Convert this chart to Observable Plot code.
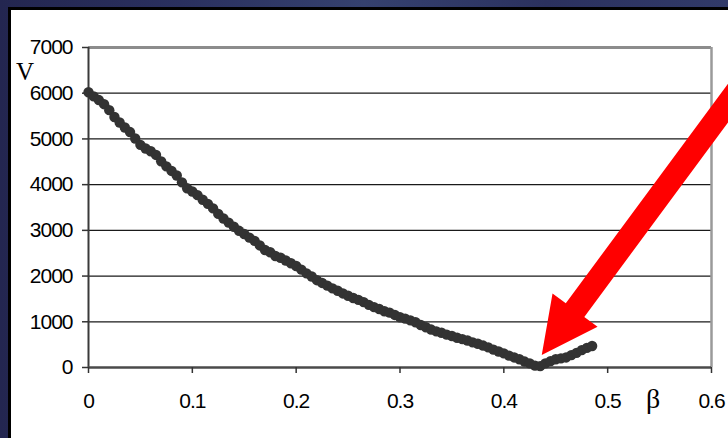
<!DOCTYPE html>
<html><head><meta charset="utf-8">
<script src="https://cdn.jsdelivr.net/npm/d3@7"></script>
<script src="https://cdn.jsdelivr.net/npm/@observablehq/plot@0.6"></script>
<style>
html,body{margin:0;padding:0;width:728px;height:438px;overflow:hidden;}
body{position:relative;background:linear-gradient(90deg,#232650 0%,#2a305f 25%,#35416f 50%,#2b315f 75%,#313a69 100%);}
#panel{position:absolute;left:8px;top:7px;width:720px;height:431px;border-left:3px solid #000;border-top:3px solid #000;background:#fff;overflow:hidden;}
#chart{position:absolute;left:0;top:0;}
#chart g[aria-label="y-axis tick label"] text, #chart g[aria-label="x-axis tick label"] text{letter-spacing:-1px;}
</style></head>
<body>
<div id="panel"><div id="chart"></div></div>
<script>
const betaValues = [0.000,0.005,0.010,0.015,0.020,0.025,0.030,0.035,0.040,0.045,
0.050,0.055,0.060,0.065,0.070,0.075,0.080,0.085,0.090,0.095,
0.100,0.105,0.110,0.115,0.120,0.125,0.130,0.135,0.140,0.145,
0.150,0.155,0.160,0.165,0.170,0.175,0.180,0.185,0.190,0.195,
0.200,0.205,0.210,0.215,0.220,0.225,0.230,0.235,0.240,0.245,
0.250,0.255,0.260,0.265,0.270,0.275,0.280,0.285,0.290,0.295,
0.300,0.305,0.310,0.315,0.320,0.325,0.330,0.335,0.340,0.345,
0.350,0.355,0.360,0.365,0.370,0.375,0.380,0.385,0.390,0.395,
0.400,0.405,0.410,0.415,0.420,0.425,0.430,0.435,0.440,0.445,
0.450,0.455,0.460,0.465,0.470,0.475,0.480,0.485];
const vValues = [6020,5930,5850,5760,5630,5480,5360,5250,5150,5010,
4870,4790,4730,4650,4510,4400,4300,4200,4050,3920,
3850,3770,3670,3580,3480,3360,3260,3170,3080,2990,
2920,2840,2770,2670,2570,2520,2440,2400,2340,2280,
2220,2140,2060,1990,1910,1850,1790,1730,1680,1620,
1570,1520,1480,1430,1370,1320,1280,1230,1200,1150,
1100,1070,1030,990,930,880,830,790,760,720,
690,650,620,590,550,520,480,440,390,350,
310,260,220,180,130,90,40,30,90,140,
180,200,220,270,320,380,430,470];
const yTicks = [0,1000,2000,3000,4000,5000,6000,7000];
const gridValues = [1000,2000,3000,4000,5000,6000];
const xTicks = [0,0.1,0.2,0.3,0.4,0.5,0.6];
const xTickLabels = ["0","0.1","0.2","0.3","0.4","0.5","0.6"];
const xLabel = "β";
const yLabel = "V";
const arrowTip = [0.437, 260];
const arrowTail = [0.63, 6190];

const data = betaValues.map((b, i) => ({beta: b, v: vValues[i]}));
const xLabelMap = new Map(xTicks.map((t, i) => [t, xTickLabels[i]]));

const plot = Plot.plot({
  width: 717, height: 428,
  marginLeft: 77, marginTop: 37, marginRight: 17, marginBottom: 71,
  style: {background: "transparent", fontFamily: "'Liberation Sans', Arial, sans-serif", fontSize: "21px", color: "#000", overflow: "visible"},
  x: {domain: [0, 0.6]},
  y: {domain: [0, 7000]},
  marks: [
    Plot.ruleY(gridValues, {stroke: "#1a1a1a", strokeWidth: 1.2}),
    Plot.ruleY([7000], {stroke: "#8c8c8c", strokeWidth: 3}),
    Plot.ruleX([0.6], {stroke: "#9a9a9a", strokeWidth: 2.5}),
    Plot.ruleX([0], {stroke: "#3a3a3a", strokeWidth: 2}),
    Plot.ruleY([0], {stroke: "#4a4a4a", strokeWidth: 2.5}),
    Plot.axisY({ticks: yTicks, tickSize: 6, tickPadding: 10, label: null, stroke: "#333", strokeWidth: 1.5, fill: "#000", tickFormat: d => String(d)}),
    Plot.axisX({ticks: xTicks, tickSize: 6, tickPadding: 20, label: null, stroke: "#333", strokeWidth: 1.5, fill: "#000", tickFormat: d => xLabelMap.get(d)}),
    Plot.dot(data, {x: "beta", y: "v", r: 5.2, fill: "#333", stroke: "none"})
  ]
});
document.getElementById("chart").appendChild(plot);

const svg = d3.select(plot);
function toPx(v, s) {
  const [d0, d1] = s.domain, [r0, r1] = s.range;
  return r0 + (v - d0) / (d1 - d0) * (r1 - r0);
}
const xs = plot.scale("x"), ys = plot.scale("y");
const T = [toPx(arrowTip[0], xs), toPx(arrowTip[1], ys)];
const E = [toPx(arrowTail[0], xs), toPx(arrowTail[1], ys)];
const len = Math.hypot(E[0] - T[0], E[1] - T[1]);
const u = [(E[0] - T[0]) / len, (E[1] - T[1]) / len];
const n = [-u[1], u[0]];
const headL = 56, headW = 28, shaftW = 11.5;
const B = [T[0] + u[0] * headL, T[1] + u[1] * headL];
const pts = [
  T,
  [B[0] + n[0] * headW, B[1] + n[1] * headW],
  [B[0] + n[0] * shaftW, B[1] + n[1] * shaftW],
  [E[0] + n[0] * shaftW, E[1] + n[1] * shaftW],
  [E[0] - n[0] * shaftW, E[1] - n[1] * shaftW],
  [B[0] - n[0] * shaftW, B[1] - n[1] * shaftW],
  [B[0] - n[0] * headW, B[1] - n[1] * headW]
];
svg.append("polygon").attr("points", pts.map(p => p.join(",")).join(" ")).attr("fill", "#ff0000");

svg.append("text").text(yLabel)
  .attr("x", 14).attr("y", 70).attr("text-anchor", "middle")
  .attr("font-family", "'Liberation Serif', 'Times New Roman', serif").attr("font-size", 25).attr("fill", "#000");
svg.append("text").text(xLabel)
  .attr("x", 642).attr("y", 398).attr("text-anchor", "middle")
  .attr("font-family", "'Liberation Serif', 'Times New Roman', serif").attr("font-size", 28).attr("fill", "#000");
</script>
</body></html>
